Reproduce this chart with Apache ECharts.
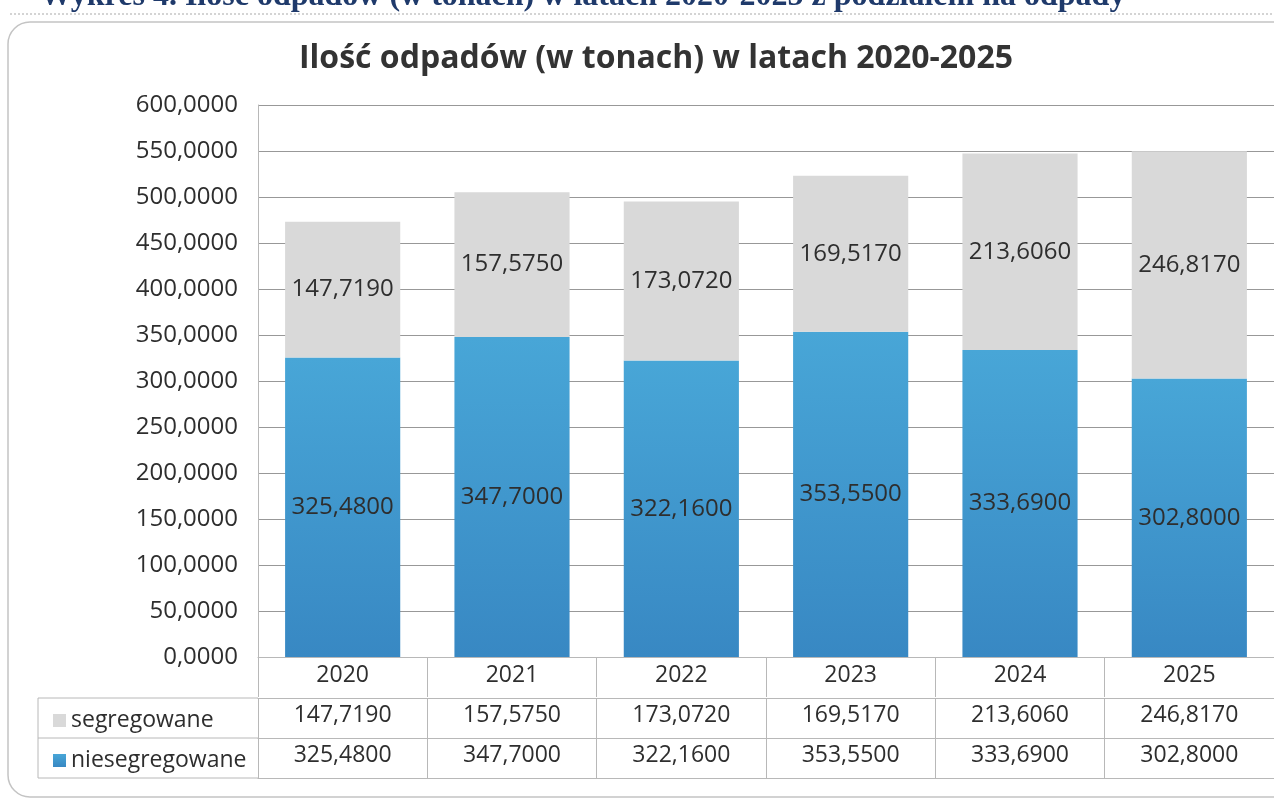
<!DOCTYPE html>
<html>
<head>
<meta charset="utf-8">
<script src="https://cdn.jsdelivr.net/npm/echarts@6/dist/echarts.min.js"></script>
<style>
html,body{margin:0;padding:0;background:#fff;}
#c{width:1274px;height:803px;}
</style>
</head>
<body>
<div id="c"></div>
<script>
const years = ['2020','2021','2022','2023','2024','2025'];
const segregowane = [147.719, 157.575, 173.072, 169.517, 213.606, 246.817];
const niesegregowane = [325.48, 347.7, 322.16, 353.55, 333.69, 302.8];
const seriesNames = ['segregowane','niesegregowane'];
const chartTitle = 'Ilość odpadów (w tonach) w latach 2020-2025';
const headerText = 'Wykres 4. Ilość odpadów (w tonach) w latach 2020-2025 z podziałem na odpady';

const fmt = v => Number(v).toFixed(4).replace('.', ',');
const FONT = '"Open Sans", "Noto Sans", sans-serif';
const txt = '#2e2e2e';
const lineC = '#b8b8b8';

const chart = echarts.init(document.getElementById('c'));

function tableAxis(data, offset, showLabel, margin) {
  return {
    type: 'category', data: data, position: 'bottom', offset: offset,
    boundaryGap: true,
    axisLine: {show: true, lineStyle: {color: lineC, width: 1}},
    axisTick: {show: showLabel, length: 40, interval: 0, alignWithLabel: false, lineStyle: {color: lineC}},
    axisLabel: {show: showLabel, interval: 0, margin: margin, fontSize: 23, color: txt, fontFamily: FONT},
    splitLine: {show: false}
  };
}

const option = {
  backgroundColor: '#fff',
  animation: false,
  title: {
    text: chartTitle, left: 294, top: 38,
    textStyle: {fontSize: 32, fontWeight: 'bold', color: '#333', fontFamily: FONT}
  },
  legend: {
    data: seriesNames, orient: 'vertical', left: 48, top: 703,
    itemWidth: 13, itemHeight: 13, itemGap: 15,
    icon: 'rect',
    textStyle: {fontSize: 23, color: txt, fontFamily: FONT, lineHeight: 25}
  },
  grid: {left: 258, top: 105, width: 1020, height: 552, containLabel: false},
  xAxis: [
    tableAxis(years, 0, true, 7),
    tableAxis(segregowane.map(fmt), 41, true, 6),
    tableAxis(niesegregowane.map(fmt), 81, true, 6),
    tableAxis(years.map(() => ''), 121, false, 8)
  ],
  yAxis: {
    type: 'value', min: 0, max: 600, interval: 50,
    axisLine: {show: true, lineStyle: {color: lineC}},
    axisTick: {show: false},
    axisLabel: {formatter: fmt, fontSize: 24, color: txt, margin: 20, fontFamily: FONT},
    splitLine: {show: true, lineStyle: {color: '#989898', width: 1}}
  },
  series: [
    {
      name: 'niesegregowane', type: 'bar', stack: 'a', barWidth: '68%',
      data: niesegregowane,
      itemStyle: {color: new echarts.graphic.LinearGradient(0,0,0,1,[{offset:0,color:'#48a6d7'},{offset:1,color:'#3888c3'}])},
      label: {show: true, position: 'inside', formatter: p => fmt(p.value), fontSize: 24, color: txt, fontFamily: FONT}
    },
    {
      name: 'segregowane', type: 'bar', stack: 'a', barWidth: '68%',
      data: segregowane,
      itemStyle: {color: '#d9d9d9'},
      label: {show: true, position: 'inside', formatter: p => fmt(p.value), fontSize: 24, color: txt, fontFamily: FONT}
    }
  ],
  graphic: [
    {type: 'text', left: 40, top: -19, style: {text: headerText, font: 'bold 32px "Liberation Serif", serif', fill: '#1f3a6b'}},
    {type: 'line', shape: {x1: 10, y1: 14, x2: 1274, y2: 14}, style: {stroke: '#aaa', lineDash: [2, 2], lineWidth: 1}},
    {type: 'rect', shape: {x: 8, y: 22, width: 1300, height: 775, r: 22}, style: {fill: 'none', stroke: '#c4c4c4', lineWidth: 1.5}},
    {type: 'line', shape: {x1: 38, y1: 698, x2: 258, y2: 698}, style: {stroke: lineC, lineWidth: 1}},
    {type: 'line', shape: {x1: 38, y1: 738, x2: 258, y2: 738}, style: {stroke: lineC, lineWidth: 1}},
    {type: 'line', shape: {x1: 38, y1: 778, x2: 258, y2: 778}, style: {stroke: lineC, lineWidth: 1}},
    {type: 'line', shape: {x1: 38, y1: 698, x2: 38, y2: 778}, style: {stroke: lineC, lineWidth: 1}}
  ]
};
chart.setOption(option);
</script>
</body>
</html>
